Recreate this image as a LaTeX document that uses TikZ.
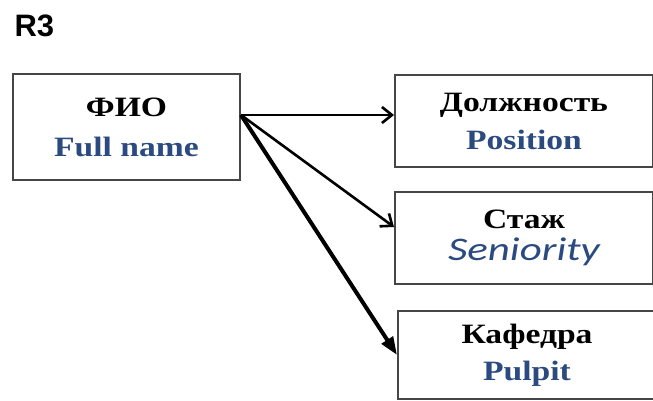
\documentclass[tikz,border=0pt]{standalone}
\usepackage{fontspec}
\setmainfont{Liberation Serif}[FakeStretch=1.2]
\newfontfamily\senfont{Carlito}[FakeStretch=1.3]
\newfontfamily\headfont{Liberation Sans}
\usetikzlibrary{positioning,arrows.meta}
\definecolor{nameblue}{RGB}{43,74,128}
\definecolor{boxgray}{RGB}{70,70,70}
\tikzset{
  attr/.style={draw=boxgray,line width=2pt,minimum height=92pt,minimum width=258pt,
    inner sep=0pt,align=center,font=\fontsize{28}{40}\selectfont\bfseries},
  link/.style={line width=2.6pt,-{Straight Barb[length=10pt,width=16pt]}},
}
\newcommand{\eng}[1]{\textcolor{nameblue}{#1}}

\begin{document}
\begin{tikzpicture}[x=1pt,y=1pt]
  \useasboundingbox (0,0) rectangle (653,-401);
  \node[anchor=base west,font=\headfont\bfseries\fontsize{31}{31}\selectfont] (title) at (11,-37) {R3};
  \node[attr,minimum width=227pt,minimum height=106pt] (fio) at (126.5,-127) {ФИО\\\eng{Full name}};
  \node[attr,right=153pt of fio.north east,anchor=north west,yshift=-1pt] (pos) {Должность\\[-2pt]\eng{Position}};
  \node[attr,below=23pt of pos] (sen) {Стаж\\[-8pt]{\senfont\itshape\mdseries\fontsize{33}{33}\selectfont\eng{Seniority}}};
  \node[attr,below=25pt of sen,xshift=3pt,minimum width=258pt,minimum height=88pt] (kaf) {Кафедра\\[-3pt]\eng{Pulpit}};
  % arrows
  \coordinate (src) at ([yshift=12pt]fio.east);
  \draw[link] (src) -- ([yshift=6pt]pos.west);
  \draw[link] (src) -- ([yshift=11pt]sen.west);
  \draw[link,line width=4pt,-{Triangle[length=18pt,width=13pt]}] (src) -- (kaf.west);
\end{tikzpicture}
\end{document}
